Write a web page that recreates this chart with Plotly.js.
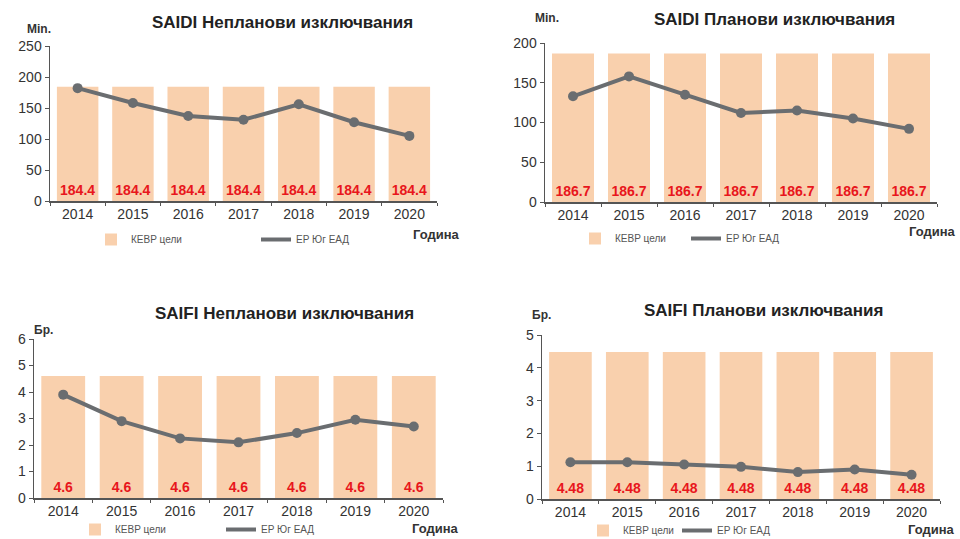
<!DOCTYPE html>
<html>
<head>
<meta charset="utf-8">
<script src="https://cdn.plot.ly/plotly-3.0.1.min.js"></script>
<style>html,body{margin:0;padding:0;background:#fff;}#chart{width:960px;height:539px;}</style>
</head>
<body>
<div id="chart"></div>
<script>
const years = ['2014','2015','2016','2017','2018','2019','2020'];

const saidiUnplTarget = [184.4,184.4,184.4,184.4,184.4,184.4,184.4];
const saidiUnplActual = [182,158,137,131,156,127,105];

const saidiPlTarget = [186.7,186.7,186.7,186.7,186.7,186.7,186.7];
const saidiPlActual = [133,158,135,112,115,105,92];

const saifiUnplTarget = [4.6,4.6,4.6,4.6,4.6,4.6,4.6];
const saifiUnplActual = [3.9,2.9,2.25,2.1,2.45,2.95,2.7];

const saifiPlTarget = [4.48,4.48,4.48,4.48,4.48,4.48,4.48];
const saifiPlActual = [1.12,1.12,1.05,0.98,0.82,0.9,0.74];

const titles = ['SAIDI Непланови изключвания','SAIDI Планови изключвания','SAIFI Непланови изключвания','SAIFI Планови изключвания'];
const units = ['Min.','Min.','Бр.','Бр.'];
const barName = 'КЕВР цели';
const lineName = 'ЕР Юг ЕАД';
const xName = 'Година';

const BAR = '#f9d0ad';
const LINE = '#6a6d70';
const RED = '#e8161c';
const FONT = 'Liberation Sans, Arial, sans-serif';

const panels = [
  {t: saidiUnplTarget, a: saidiUnplActual, fmt: v => v.toFixed(1), range:[0,250], dtick:50,
   xd:[50,437], yd:[201,46], legX:91, legY:225, entry:120,
   title:[282,23], unit:[39,29], god:[436,235]},
  {t: saidiPlTarget, a: saidiPlActual, fmt: v => v.toFixed(1), range:[0,200], dtick:50,
   xd:[545,937], yd:[202,43], legX:575, legY:224, entry:66,
   title:[774,20], unit:[547,18], god:[932,232]},
  {t: saifiUnplTarget, a: saifiUnplActual, fmt: v => v.toFixed(1), range:[0,6], dtick:1,
   xd:[34,443], yd:[498,339], legX:75, legY:515, entry:101,
   title:[284,313], unit:[43,330], god:[435,528]},
  {t: saifiPlTarget, a: saifiPlActual, fmt: v => v.toFixed(2), range:[0,5], dtick:1,
   xd:[542,940], yd:[499,335], legX:583, legY:516, entry:49,
   title:[763,310], unit:[541,315], god:[931,529]}
];

const W = 960, H = 539;
const data = [];
const layout = {
  width: W, height: H,
  margin: {l:0, r:0, t:0, b:0, autoexpand: false},
  paper_bgcolor: '#ffffff', plot_bgcolor: 'rgba(0,0,0,0)',
  font: {family: FONT, color: '#333333', size: 14},
  bargap: 0.25,
  showlegend: true,
  annotations: []
};

panels.forEach((p, i) => {
  const n = i + 1;
  const xa = n === 1 ? 'x' : 'x' + n;
  const ya = n === 1 ? 'y' : 'y' + n;
  const lg = n === 1 ? 'legend' : 'legend' + n;
  data.push({
    type: 'bar', x: years, y: p.t, xaxis: xa, yaxis: ya, name: barName, legend: lg,
    marker: {color: BAR, line: {width: 0}},
    text: p.t.map(p.fmt), textposition: 'inside', insidetextanchor: 'start',
    textangle: 0, constraintext: 'none',
    textfont: {family: FONT, color: RED, size: 14, weight: 'bold'},
    hoverinfo: 'skip'
  });
  data.push({
    type: 'scatter', mode: 'lines', x: years, y: p.a, xaxis: xa, yaxis: ya,
    name: lineName, legend: lg,
    line: {color: LINE, width: 4},
    hoverinfo: 'skip'
  });
  data.push({
    type: 'scatter', mode: 'markers', x: years, y: p.a, xaxis: xa, yaxis: ya,
    name: lineName, showlegend: false,
    marker: {color: LINE, size: 10},
    hoverinfo: 'skip'
  });
  layout['xaxis' + (n === 1 ? '' : n)] = {
    domain: [p.xd[0]/W, p.xd[1]/W], anchor: ya,
    type: 'category', showgrid: false, zeroline: false,
    showline: true, linecolor: '#555', linewidth: 1.5,
    ticks: 'outside', tickson: 'boundaries', ticklen: 3, tickcolor: '#555',
    tickfont: {family: FONT, size: 14, color: '#333'},
    fixedrange: true
  };
  layout['yaxis' + (n === 1 ? '' : n)] = {
    domain: [1 - p.yd[0]/H, 1 - p.yd[1]/H], anchor: xa,
    range: p.range, dtick: p.dtick, showgrid: false, zeroline: false,
    showline: true, linecolor: '#555', linewidth: 1.5,
    ticks: 'outside', ticklen: 4, tickcolor: '#555',
    tickfont: {family: FONT, size: 14, color: '#333'},
    fixedrange: true
  };
  layout[lg] = {
    x: p.legX / W, y: 1 - p.legY / H, xanchor: 'left', yanchor: 'top',
    orientation: 'h', entrywidth: p.entry, entrywidthmode: 'pixels',
    itemwidth: 30, bgcolor: 'rgba(0,0,0,0)',
    font: {family: FONT, size: 10, color: '#555'}
  };
  layout.annotations.push({
    xref: 'paper', yref: 'paper', x: p.title[0]/W, y: 1 - p.title[1]/H,
    xanchor: 'center', yanchor: 'middle', showarrow: false,
    text: '<b>' + titles[i] + '</b>', font: {family: FONT, size: 17, color: '#222'}
  });
  layout.annotations.push({
    xref: 'paper', yref: 'paper', x: p.unit[0]/W, y: 1 - p.unit[1]/H,
    xanchor: 'center', yanchor: 'middle', showarrow: false,
    text: '<b>' + units[i] + '</b>', font: {family: FONT, size: 12, color: '#333'}
  });
  layout.annotations.push({
    xref: 'paper', yref: 'paper', x: p.god[0]/W, y: 1 - p.god[1]/H,
    xanchor: 'center', yanchor: 'middle', showarrow: false,
    text: '<b>' + xName + '</b>', font: {family: FONT, size: 13, color: '#333'}
  });
});

Plotly.newPlot('chart', data, layout, {displayModeBar: false, staticPlot: true});
</script>
</body>
</html>
